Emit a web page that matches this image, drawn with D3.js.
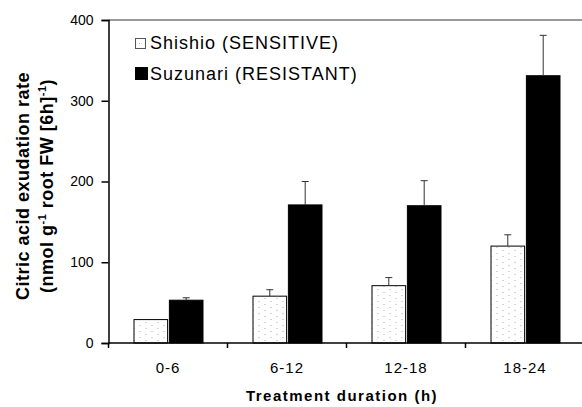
<!DOCTYPE html>
<html><head><meta charset="utf-8">
<script src="https://cdn.jsdelivr.net/npm/d3@7"></script>
<style>body{margin:0;background:#fff}svg{display:block}text{font-family:"Liberation Sans",Arial,sans-serif}</style>
</head><body><svg id="c" width="582" height="407"></svg>
<script>
const categories = ["0-6","6-12","12-18","18-24"];
const sensitive = [29, 58, 71, 120];
const sensitiveErr = [0, 8, 10, 14];
const resistant = [53, 171, 170, 331];
const resistantErr = [3, 29, 31, 50];
const seriesNames = ["Shishio (SENSITIVE)", "Suzunari (RESISTANT)"];
const yTicks = [0,100,200,300,400];

const svg = d3.select("#c");
const W = 582;
const left = 108.5;
const x = d3.scaleBand().domain(categories).range([left, left + 119*4]).paddingInner(0).paddingOuter(0);
const y = d3.scaleLinear().domain([0,400]).range([343, 20]);
const xs = d3.scaleBand().domain([0,1]).range([25.5, 94.5]).paddingInner(0.05);

const defs = svg.append("defs");
const pat = defs.append("pattern").attr("id","dots").attr("patternUnits","userSpaceOnUse")
  .attr("width",12).attr("height",6).attr("x",134).attr("y",0);
pat.append("rect").attr("x",5).attr("y",1).attr("width",1).attr("height",1).attr("fill","#aaa");
pat.append("rect").attr("x",11).attr("y",4).attr("width",1).attr("height",1).attr("fill","#aaa");

svg.append("line").attr("x1",left).attr("x2",W).attr("y1",y(400)).attr("y2",y(400)).attr("stroke","#777").attr("stroke-width",1.5);

const data = categories.map((c,i)=>({c, vals:[{s:0,v:sensitive[i],e:sensitiveErr[i]},{s:1,v:resistant[i],e:resistantErr[i]}]}));
const g = svg.selectAll(".grp").data(data).enter().append("g").attr("transform",d=>`translate(${x(d.c)},0)`);
g.selectAll("rect").data(d=>d.vals).enter().append("rect")
  .attr("x",d=>xs(d.s)).attr("width",xs.bandwidth())
  .attr("y",d=>y(d.v)).attr("height",d=>y(0)-y(d.v))
  .attr("fill",d=>d.s===0?"url(#dots)":"#000")
  .attr("stroke","#000").attr("stroke-width",1);
const eb = g.selectAll(".eb").data(d=>d.vals.filter(v=>v.e>0)).enter().append("g");
eb.append("line").attr("x1",d=>xs(d.s)+xs.bandwidth()/2).attr("x2",d=>xs(d.s)+xs.bandwidth()/2)
  .attr("y1",d=>y(d.v)).attr("y2",d=>y(d.v+d.e)).attr("stroke","#333");
eb.append("line").attr("x1",d=>xs(d.s)+xs.bandwidth()/2-3.5).attr("x2",d=>xs(d.s)+xs.bandwidth()/2+3.5)
  .attr("y1",d=>y(d.v+d.e)).attr("y2",d=>y(d.v+d.e)).attr("stroke","#333");

const ya = svg.append("g").attr("transform",`translate(${left},0)`)
  .call(d3.axisLeft(y).tickValues(yTicks).tickSize(7).tickPadding(8));
ya.select(".domain").attr("stroke","#000").attr("stroke-width",1.5);
ya.selectAll("line").attr("stroke","#000").attr("stroke-width",1.5);
ya.selectAll("text").attr("font-size",14).attr("fill","#000");

const xa = svg.append("g").attr("transform",`translate(0,${y(0)})`);
xa.append("line").attr("x1",left).attr("x2",W).attr("stroke","#000").attr("stroke-width",1.5);
xa.selectAll(".tk").data(categories).enter().append("line")
  .attr("x1",d=>x(d)).attr("x2",d=>x(d)).attr("y1",0).attr("y2",5).attr("stroke","#000").attr("stroke-width",1.5);
xa.selectAll(".lb").data(categories).enter().append("text")
  .attr("x",d=>x(d)+x.bandwidth()/2).attr("y",29.5).attr("text-anchor","middle").attr("font-size",15).attr("letter-spacing",1).text(d=>d);

svg.append("text").attr("x",342).attr("y",401).attr("text-anchor","middle").attr("font-size",15).attr("letter-spacing",1.5).attr("font-weight","bold").text("Treatment duration (h)");

const yl = svg.append("text").attr("transform","translate(0,186) rotate(-90)").attr("text-anchor","middle").attr("font-weight","bold").attr("font-size",18).attr("letter-spacing",0.5);
yl.append("tspan").attr("x",0).attr("y",29).text("Citric acid exudation rate");
const t2 = yl.append("tspan").attr("x",0).attr("y",53);
t2.append("tspan").text("(nmol g");
t2.append("tspan").attr("dy",-7).attr("font-size",11).text("-1");
t2.append("tspan").attr("dy",7).text(" root FW [6h]");
t2.append("tspan").attr("dy",-7).attr("font-size",11).text("-1");
t2.append("tspan").attr("dy",7).text(")");

const lg = svg.append("g");
lg.append("rect").attr("x",135.5).attr("y",38.5).attr("width",10).attr("height",10)
  .attr("fill","url(#dots)").attr("stroke","#555");
lg.append("rect").attr("x",135).attr("y",67).attr("width",13).attr("height",13).attr("fill","#000");
seriesNames.forEach((n,i)=>{
  lg.append("text").attr("x",150).attr("y",49 + i*30.5).attr("font-size",18).attr("letter-spacing",1).text(n);
});
</script></body></html>
